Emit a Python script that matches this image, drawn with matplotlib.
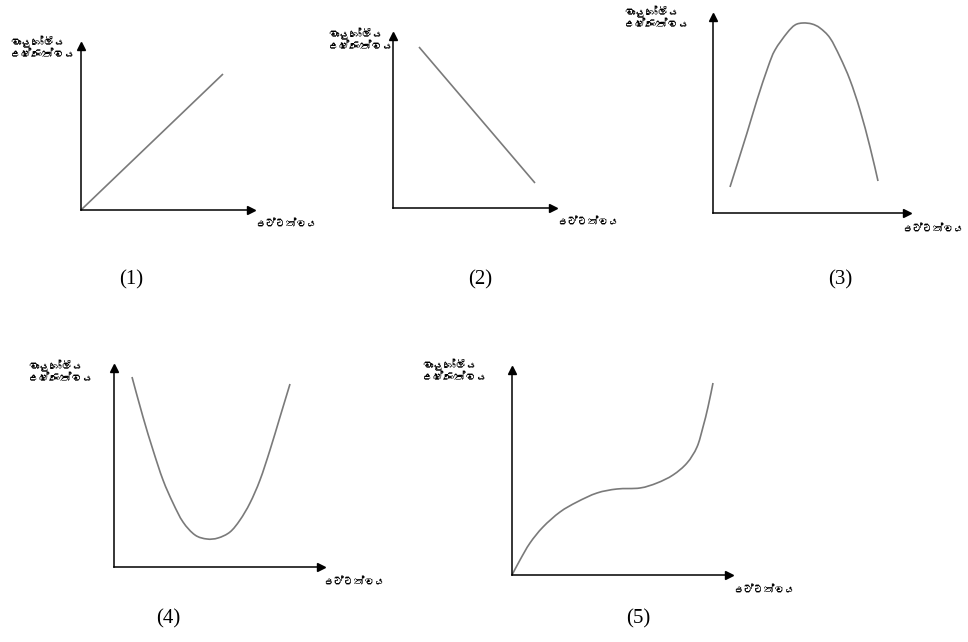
import matplotlib
matplotlib.use("Agg")
import matplotlib.pyplot as plt
from matplotlib import font_manager
from matplotlib.ft2font import FT2Font
from matplotlib.path import Path
from matplotlib.patches import PathPatch

W, H = 968, 642

# Axis label texts (Sinhala)
y_label_lines = ["වායුගෝලීය", "උෂ්ණත්වය"]
x_label = "උච්චත්වය"
panel_names = ["(1)", "(2)", "(3)", "(4)", "(5)"]

# Curve values (arbitrary units: offset from the axes origin)
p1_x = [0, 142]
p1_y = [0, 136]

p2_x = [26, 142]
p2_y = [161, 25]

p3_x = [17, 34, 44, 55, 62, 74, 82, 90, 99, 107, 117, 127, 137, 147, 157, 165]
p3_y = [26, 80, 113, 146, 163, 180, 188, 190, 189, 185, 175, 156, 133, 103, 66, 32]

p4_x = [18, 29, 39, 49, 59, 69, 81, 93, 104, 116, 126, 136, 146, 156, 166, 176]
p4_y = [190, 150, 117, 87, 64, 45, 32, 28, 29, 35, 47, 64, 87, 117, 150, 183]

p5_x = [0, 8, 18, 31, 48, 65, 85, 105, 128, 145, 161, 175, 185, 191, 196, 201]
p5_y = [0, 15, 32, 48, 63, 73, 82, 86, 87, 92, 100, 112, 128, 148, 168, 192]

series = [(p1_x, p1_y), (p2_x, p2_y), (p3_x, p3_y), (p4_x, p4_y), (p5_x, p5_y)]


def find_family(ch):
    """Return the name of an installed font family that has the glyph ch."""
    code = ord(ch)
    for fe in font_manager.fontManager.ttflist:
        try:
            if code in FT2Font(fe.fname).get_charmap():
                return fe.name
        except Exception:
            continue
    return None


sin_family = find_family("ව")
label_families = ([sin_family] if sin_family else []) + ["DejaVu Sans"]


def smooth_path(xs, ys):
    """Catmull-Rom style cubic path through the given points (drawn by matplotlib)."""
    pts = list(zip(xs, ys))
    if len(pts) < 3:
        return Path(pts)
    verts = [pts[0]]
    codes = [Path.MOVETO]
    n = len(pts)
    for i in range(n - 1):
        p0 = pts[i - 1] if i > 0 else pts[i]
        p1 = pts[i]
        p2 = pts[i + 1]
        p3 = pts[i + 2] if i + 2 < n else pts[i + 1]
        c1 = (p1[0] + (p2[0] - p0[0]) / 6.0, p1[1] + (p2[1] - p0[1]) / 6.0)
        c2 = (p2[0] - (p3[0] - p1[0]) / 6.0, p2[1] - (p3[1] - p1[1]) / 6.0)
        verts += [c1, c2, p2]
        codes += [Path.CURVE4] * 3
    return Path(verts, codes)


# Layout (pixels): origin x, origin y, x-arrow tip, y-arrow top
layout = [
    (81, 210, 255, 42),
    (393, 208, 557, 32),
    (713, 213, 911, 13),
    (114, 567, 325, 364),
    (512, 575, 733, 366),
]
# y-label (left x, top y); x-label (anchor x, center y, alignment); panel name center (x, y)
ylab_pos = [(10, 36), (328, 28), (624, 6), (28, 360), (422, 359)]
xlab_pos = [(255, 223, "left"), (557, 221, "left"), (964, 228, "right"),
            (323, 581, "left"), (733, 589, "left")]
name_pos = [(131, 280), (480, 280), (840, 280), (168, 619), (638, 619)]

fig = plt.figure(figsize=(W / 100, H / 100), dpi=100)
fig.patch.set_facecolor("white")

arrow = 4  # pixels of arrowhead beyond the axes end

for (xs, ys), (ox, oy, tx, ty) in zip(series, layout):
    wpx = tx - ox - arrow
    hpx = oy - ty - arrow
    ax = fig.add_axes([ox / W, 1 - oy / H, wpx / W, hpx / H])
    ax.set_xlim(0, wpx)
    ax.set_ylim(0, hpx)
    for s in ["top", "right"]:
        ax.spines[s].set_visible(False)
    for s in ["left", "bottom"]:
        ax.spines[s].set_color("black")
        ax.spines[s].set_linewidth(1.1)
    ax.set_xticks([])
    ax.set_yticks([])
    ax.patch.set_alpha(0)
    ax.plot(1, 0, ">", color="black", markersize=6,
            transform=ax.get_yaxis_transform(), clip_on=False)
    ax.plot(0, 1, "^", color="black", markersize=6,
            transform=ax.get_xaxis_transform(), clip_on=False)
    ax.add_patch(PathPatch(smooth_path(xs, ys), facecolor="none",
                           edgecolor="#7a7a7a", linewidth=1.2,
                           capstyle="butt", joinstyle="round", clip_on=False))

for (lx, ly) in ylab_pos:
    fig.text(lx / W, 1 - ly / H, "\n".join(y_label_lines), ha="left", va="top",
             fontsize=8, fontweight="bold", linespacing=1.25,
             family=label_families, color="black")

for (lx, ly, ha) in xlab_pos:
    fig.text(lx / W, 1 - ly / H, x_label, ha=ha, va="center",
             fontsize=7.5, fontweight="bold", family=label_families, color="black")

for name, (nx, ny) in zip(panel_names, name_pos):
    fig.text(nx / W, 1 - ny / H, name, ha="center", va="center",
             fontsize=15, family=["Liberation Serif", "DejaVu Serif"], color="black")

fig.savefig("out.png", dpi=100, facecolor="white")
